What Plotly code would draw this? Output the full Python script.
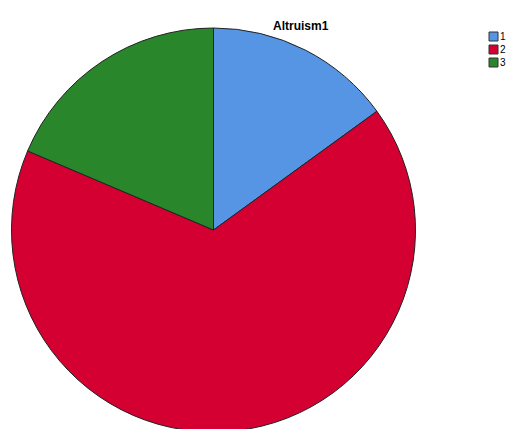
import plotly.graph_objects as go

categories = ["1", "2", "3"]
values = [15.0, 66.4, 18.6]
colors = ["#5595E4", "#D40032", "#29862A"]

W, H = 508, 429
PH = H + 3  # page slightly taller so the pie bottom is cropped like the reference
cx, cy, r = 213.5, 230, 202

fig = go.Figure()
fig.add_trace(go.Pie(
    labels=categories,
    values=values,
    sort=False,
    direction="clockwise",
    rotation=0,
    textinfo="none",
    hoverinfo="label+percent",
    showlegend=False,
    marker=dict(colors=colors, line=dict(color="#222222", width=1)),
    domain=dict(x=[(cx - r) / W, (cx + r) / W], y=[0, 1 - (cy - r) / PH]),
))

shapes = []
annotations = [dict(text="<b>Altruism1</b>", x=301 / W, y=1 - 17 / PH,
                    xref="paper", yref="paper", showarrow=False,
                    font=dict(size=12, family="Arial, Liberation Sans, sans-serif"))]
for i, (cat, col) in enumerate(zip(categories, colors)):
    top = 32 + 13 * i
    shapes.append(dict(type="rect", xref="paper", yref="paper",
                       x0=489 / W, x1=498 / W, y0=1 - (top + 9) / PH, y1=1 - top / PH,
                       fillcolor=col, line=dict(color="#333333", width=1)))
    annotations.append(dict(text=cat, x=499 / W, y=1 - (top + 4.5) / PH,
                            xref="paper", yref="paper", xanchor="left", yanchor="middle",
                            borderpad=0, showarrow=False, font=dict(size=10)))

fig.update_layout(
    width=W, height=PH,
    margin=dict(l=0, r=0, t=0, b=0, autoexpand=False),
    paper_bgcolor="white",
    plot_bgcolor="white",
    font=dict(family="Arial, Liberation Sans, sans-serif", size=11, color="black"),
    showlegend=False,
    shapes=shapes,
    annotations=annotations,
)

fig.write_html("out.html", config=dict(displayModeBar=False),
               post_script="document.body.style.margin='0';document.body.style.overflow='hidden';document.documentElement.style.overflow='hidden';")
